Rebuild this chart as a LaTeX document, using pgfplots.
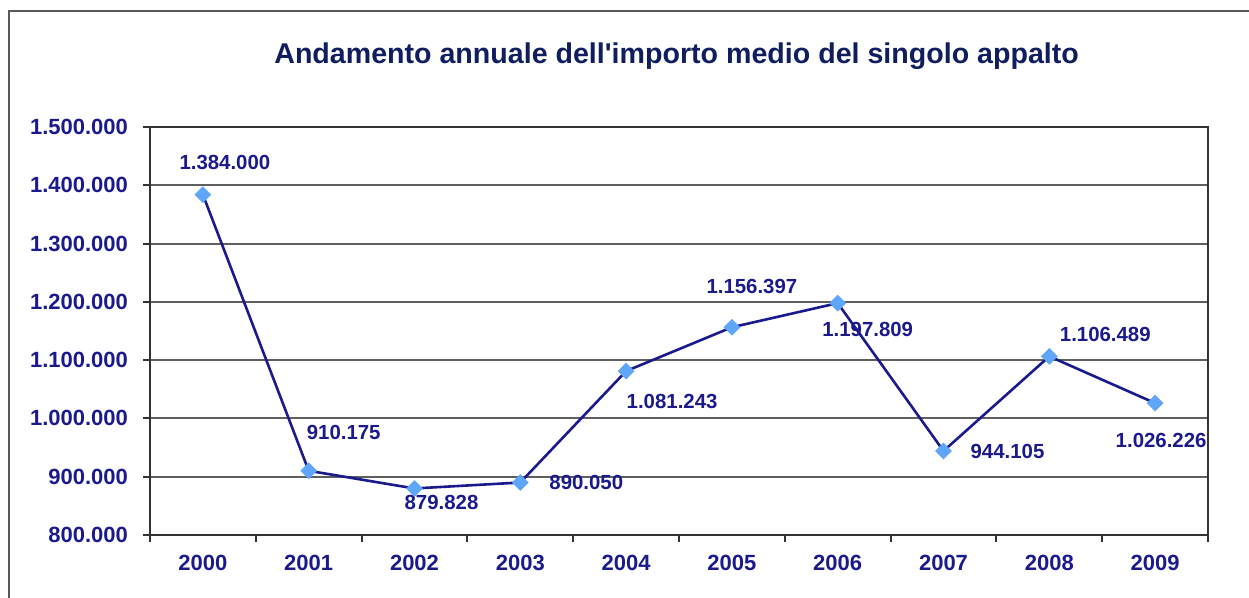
\documentclass[border=0pt]{standalone}
\usepackage{pgfplots}
\pgfplotsset{compat=1.18}
\usepackage{fontspec}
\setmainfont{Liberation Sans}
\definecolor{navy}{RGB}{26,26,140}
\definecolor{titlenavy}{RGB}{16,30,96}
\definecolor{markblue}{RGB}{95,165,250}
\definecolor{gridgray}{RGB}{95,95,95}
\begin{document}
\begin{tikzpicture}
\path[use as bounding box] (-75pt,-31.5pt) rectangle (549.5pt,267.5pt);
\draw[gray!70!black, line width=1pt] (-70.5pt,-31.5pt) -- (-70.5pt,262pt) -- (549.5pt,262pt);
\begin{axis}[
    at={(0,0)}, anchor=south west,
    scale only axis, width=529pt, height=204pt,
    xmin=-0.5, xmax=9.5, ymin=800000, ymax=1500000,
    xtick={-0.5,0.5,1.5,2.5,3.5,4.5,5.5,6.5,7.5,8.5,9.5},
    x tick label as interval,
    xticklabels={2000,2001,2002,2003,2004,2005,2006,2007,2008,2009},
    ytick={800000,900000,1000000,1100000,1200000,1300000,1400000,1500000},
    yticklabels={800.000,900.000,1.000.000,1.100.000,1.200.000,1.300.000,1.400.000,1.500.000},
    scaled y ticks=false,
    xtick pos=bottom, ytick pos=left,
    tick align=outside, major tick length=3.5pt,
    tick style={black!80, line width=1pt},
    axis line style={black!80, line width=1pt},
    ymajorgrids, grid style={gridgray, line width=1pt},
    ticklabel style={font=\bfseries\fontsize{11}{13}\selectfont, text=navy},
    yticklabel style={xshift=-4pt},
    xticklabel style={yshift=-3pt},
    clip=false,
    nodes={font=\bfseries\fontsize{10.2}{12}\selectfont, text=navy},
]
\addplot[navy, line width=1.3pt, mark=square*, mark size=2.8pt,
    mark options={rotate=45, fill=markblue, draw=markblue, line width=0.3pt}]
    coordinates {(0,1384000) (1,910175) (2,879828) (3,890050) (4,1081243)
                 (5,1156397) (6,1197809) (7,944105) (8,1106489) (9,1026226)};
\node at (axis cs:0,1384000) [xshift=11pt, yshift=16pt] {1.384.000};
\node at (axis cs:1,910175) [xshift=17.5pt, yshift=19pt] {910.175};
\node at (axis cs:2,879828) [xshift=13.5pt, yshift=-7pt] {879.828};
\node at (axis cs:3,890050) [xshift=33pt] {890.050};
\node at (axis cs:4,1081243) [xshift=23pt, yshift=-15pt] {1.081.243};
\node at (axis cs:5,1156397) [xshift=10pt, yshift=20.5pt] {1.156.397};
\node at (axis cs:6,1197809) [xshift=15pt, yshift=-13pt] {1.197.809};
\node at (axis cs:7,944105) [xshift=32pt] {944.105};
\node at (axis cs:8,1106489) [xshift=28pt, yshift=11pt] {1.106.489};
\node at (axis cs:9,1026226) [xshift=3pt, yshift=-18.5pt] {1.026.226};
\end{axis}
\node[anchor=base, font=\bfseries\fontsize{14.3}{16}\selectfont, text=titlenavy]
    at (263.3pt,235.5pt) {Andamento annuale dell\textquotesingle importo medio del singolo appalto};
\end{tikzpicture}
\end{document}
